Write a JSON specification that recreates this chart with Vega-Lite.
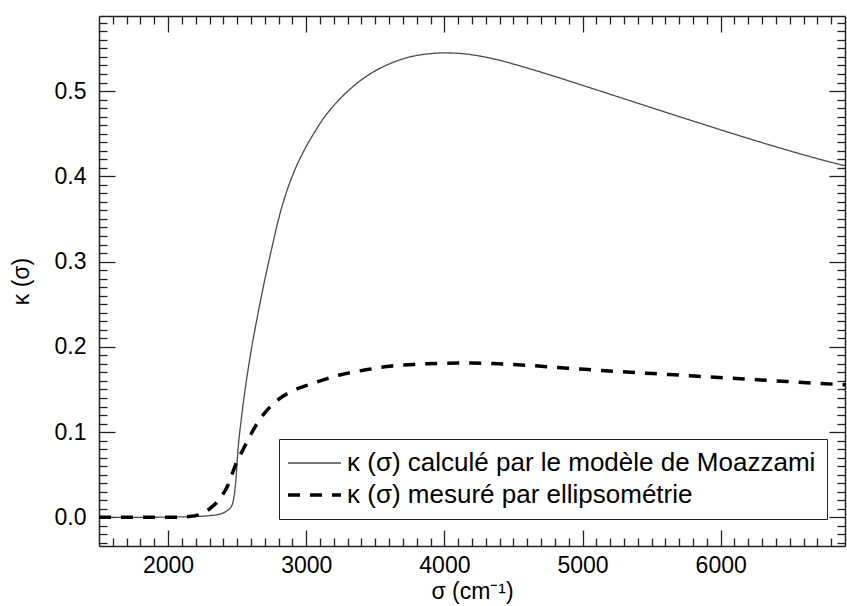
{
  "$schema": "https://vega.github.io/schema/vega-lite/v6.json",
  "width": 746,
  "height": 530,
  "autosize": "none",
  "padding": {"left": 99, "top": 16, "right": 2, "bottom": 60},
  "config": {
    "font": "Liberation Sans",
    "view": {"stroke": null},
    "axis": {"grid": false, "labelFont": "Liberation Sans", "titleFont": "Liberation Sans", "labelColor": "black", "titleColor": "black", "domainColor": "#222", "domainWidth": 1.5, "tickColor": "#222", "tickWidth": 1.3, "labelFontSize": 23, "titleFontSize": 23, "titleFontWeight": "normal", "labelOverlap": false, "labelFlush": false},
    "legend": {"title": null, "orient": "none", "legendX": 180, "legendY": 423, "symbolType": "M-1.5,0H3.8", "symbolSize": 400, "labelFontSize": 26, "labelFont": "Liberation Sans", "labelColor": "black", "labelLimit": 1000, "padding": 11, "rowPadding": 6, "labelOffset": 31, "strokeColor": "#222", "fillColor": "white", "cornerRadius": 0}
  },
  "datasets": {
    "curves": [
      {"s": 1500, "k": 0, "serie": "κ (σ) calculé par le modèle de Moazzami"},
      {"s": 1800, "k": 0, "serie": "κ (σ) calculé par le modèle de Moazzami"},
      {"s": 2000, "k": 0.0003, "serie": "κ (σ) calculé par le modèle de Moazzami"},
      {"s": 2200, "k": 0.001, "serie": "κ (σ) calculé par le modèle de Moazzami"},
      {"s": 2300, "k": 0.002, "serie": "κ (σ) calculé par le modèle de Moazzami"},
      {"s": 2380, "k": 0.004, "serie": "κ (σ) calculé par le modèle de Moazzami"},
      {"s": 2420, "k": 0.007, "serie": "κ (σ) calculé par le modèle de Moazzami"},
      {"s": 2450, "k": 0.011, "serie": "κ (σ) calculé par le modèle de Moazzami"},
      {"s": 2470, "k": 0.018, "serie": "κ (σ) calculé par le modèle de Moazzami"},
      {"s": 2480, "k": 0.027, "serie": "κ (σ) calculé par le modèle de Moazzami"},
      {"s": 2490, "k": 0.042, "serie": "κ (σ) calculé par le modèle de Moazzami"},
      {"s": 2506, "k": 0.079, "serie": "κ (σ) calculé par le modèle de Moazzami"},
      {"s": 2532, "k": 0.118, "serie": "κ (σ) calculé par le modèle de Moazzami"},
      {"s": 2564, "k": 0.157, "serie": "κ (σ) calculé par le modèle de Moazzami"},
      {"s": 2602, "k": 0.196, "serie": "κ (σ) calculé par le modèle de Moazzami"},
      {"s": 2646, "k": 0.235, "serie": "κ (σ) calculé par le modèle de Moazzami"},
      {"s": 2694, "k": 0.274, "serie": "κ (σ) calculé par le modèle de Moazzami"},
      {"s": 2747, "k": 0.313, "serie": "κ (σ) calculé par le modèle de Moazzami"},
      {"s": 2797, "k": 0.348, "serie": "κ (σ) calculé par le modèle de Moazzami"},
      {"s": 2850, "k": 0.378, "serie": "κ (σ) calculé par le modèle de Moazzami"},
      {"s": 2915, "k": 0.4065, "serie": "κ (σ) calculé par le modèle de Moazzami"},
      {"s": 2990, "k": 0.432, "serie": "κ (σ) calculé par le modèle de Moazzami"},
      {"s": 3060, "k": 0.4516, "serie": "κ (σ) calculé par le modèle de Moazzami"},
      {"s": 3130, "k": 0.469, "serie": "κ (σ) calculé par le modèle de Moazzami"},
      {"s": 3205, "k": 0.484, "serie": "κ (σ) calculé par le modèle de Moazzami"},
      {"s": 3300, "k": 0.4997, "serie": "κ (σ) calculé par le modèle de Moazzami"},
      {"s": 3400, "k": 0.5132, "serie": "κ (σ) calculé par le modèle de Moazzami"},
      {"s": 3500, "k": 0.5237, "serie": "κ (σ) calculé par le modèle de Moazzami"},
      {"s": 3600, "k": 0.5317, "serie": "κ (σ) calculé par le modèle de Moazzami"},
      {"s": 3700, "k": 0.5377, "serie": "κ (σ) calculé par le modèle de Moazzami"},
      {"s": 3800, "k": 0.5417, "serie": "κ (σ) calculé par le modèle de Moazzami"},
      {"s": 3900, "k": 0.5439, "serie": "κ (σ) calculé par le modèle de Moazzami"},
      {"s": 4000, "k": 0.5447, "serie": "κ (σ) calculé par le modèle de Moazzami"},
      {"s": 4100, "k": 0.5442, "serie": "κ (σ) calculé par le modèle de Moazzami"},
      {"s": 4200, "k": 0.5425, "serie": "κ (σ) calculé par le modèle de Moazzami"},
      {"s": 4300, "k": 0.5397, "serie": "κ (σ) calculé par le modèle de Moazzami"},
      {"s": 4400, "k": 0.536, "serie": "κ (σ) calculé par le modèle de Moazzami"},
      {"s": 4500, "k": 0.5317, "serie": "κ (σ) calculé par le modèle de Moazzami"},
      {"s": 4600, "k": 0.527, "serie": "κ (σ) calculé par le modèle de Moazzami"},
      {"s": 4700, "k": 0.5221, "serie": "κ (σ) calculé par le modèle de Moazzami"},
      {"s": 4800, "k": 0.5171, "serie": "κ (σ) calculé par le modèle de Moazzami"},
      {"s": 5000, "k": 0.5067, "serie": "κ (σ) calculé par le modèle de Moazzami"},
      {"s": 5200, "k": 0.4962, "serie": "κ (σ) calculé par le modèle de Moazzami"},
      {"s": 5400, "k": 0.4857, "serie": "κ (σ) calculé par le modèle de Moazzami"},
      {"s": 5600, "k": 0.4752, "serie": "κ (σ) calculé par le modèle de Moazzami"},
      {"s": 5800, "k": 0.4648, "serie": "κ (σ) calculé par le modèle de Moazzami"},
      {"s": 6000, "k": 0.4545, "serie": "κ (σ) calculé par le modèle de Moazzami"},
      {"s": 6200, "k": 0.4444, "serie": "κ (σ) calculé par le modèle de Moazzami"},
      {"s": 6400, "k": 0.4346, "serie": "κ (σ) calculé par le modèle de Moazzami"},
      {"s": 6600, "k": 0.4252, "serie": "κ (σ) calculé par le modèle de Moazzami"},
      {"s": 6800, "k": 0.4164, "serie": "κ (σ) calculé par le modèle de Moazzami"},
      {"s": 6900, "k": 0.4125, "serie": "κ (σ) calculé par le modèle de Moazzami"},
      {"s": 1500, "k": 0, "serie": "κ (σ) mesuré par ellipsométrie"},
      {"s": 2000, "k": 0, "serie": "κ (σ) mesuré par ellipsométrie"},
      {"s": 2150, "k": 0.001, "serie": "κ (σ) mesuré par ellipsométrie"},
      {"s": 2240, "k": 0.004, "serie": "κ (σ) mesuré par ellipsométrie"},
      {"s": 2300, "k": 0.01, "serie": "κ (σ) mesuré par ellipsométrie"},
      {"s": 2385, "k": 0.024, "serie": "κ (σ) mesuré par ellipsométrie"},
      {"s": 2440, "k": 0.04, "serie": "κ (σ) mesuré par ellipsométrie"},
      {"s": 2482, "k": 0.059, "serie": "κ (σ) mesuré par ellipsométrie"},
      {"s": 2554, "k": 0.083, "serie": "κ (σ) mesuré par ellipsométrie"},
      {"s": 2600, "k": 0.0975, "serie": "κ (σ) mesuré par ellipsométrie"},
      {"s": 2650, "k": 0.1115, "serie": "κ (σ) mesuré par ellipsométrie"},
      {"s": 2700, "k": 0.1225, "serie": "κ (σ) mesuré par ellipsométrie"},
      {"s": 2750, "k": 0.1315, "serie": "κ (σ) mesuré par ellipsométrie"},
      {"s": 2800, "k": 0.1385, "serie": "κ (σ) mesuré par ellipsométrie"},
      {"s": 2892, "k": 0.1475, "serie": "κ (σ) mesuré par ellipsométrie"},
      {"s": 3065, "k": 0.158, "serie": "κ (σ) mesuré par ellipsométrie"},
      {"s": 3242, "k": 0.167, "serie": "κ (σ) mesuré par ellipsométrie"},
      {"s": 3430, "k": 0.173, "serie": "κ (σ) mesuré par ellipsométrie"},
      {"s": 3620, "k": 0.1775, "serie": "κ (σ) mesuré par ellipsométrie"},
      {"s": 3796, "k": 0.1795, "serie": "κ (σ) mesuré par ellipsométrie"},
      {"s": 4000, "k": 0.1807, "serie": "κ (σ) mesuré par ellipsométrie"},
      {"s": 4162, "k": 0.181, "serie": "κ (σ) mesuré par ellipsométrie"},
      {"s": 4350, "k": 0.1805, "serie": "κ (σ) mesuré par ellipsométrie"},
      {"s": 4528, "k": 0.179, "serie": "κ (σ) mesuré par ellipsométrie"},
      {"s": 4894, "k": 0.175, "serie": "κ (σ) mesuré par ellipsométrie"},
      {"s": 5260, "k": 0.171, "serie": "κ (σ) mesuré par ellipsométrie"},
      {"s": 5626, "k": 0.1675, "serie": "κ (σ) mesuré par ellipsométrie"},
      {"s": 5991, "k": 0.164, "serie": "κ (σ) mesuré par ellipsométrie"},
      {"s": 6357, "k": 0.1605, "serie": "κ (σ) mesuré par ellipsométrie"},
      {"s": 6723, "k": 0.157, "serie": "κ (σ) mesuré par ellipsométrie"},
      {"s": 6900, "k": 0.1555, "serie": "κ (σ) mesuré par ellipsométrie"}
    ]
  },
  "data": {"name": "curves"},
  "layer": [
    {
      "transform": [{"filter": "datum.serie === 'κ (σ) calculé par le modèle de Moazzami'"}],
      "mark": {"type": "line", "clip": true, "interpolate": "monotone"},
      "encoding": {
        "x": {"field": "s", "type": "quantitative", "scale": {"domain": [1500, 6900], "nice": false, "zero": false},
          "axis": {"orient": "bottom", "values": [2000, 3000, 4000, 5000, 6000], "format": "d", "tickSize": -16, "labelPadding": 24, "title": "σ (cm⁻¹)", "titlePadding": 3}},
        "y": {"field": "k", "type": "quantitative", "scale": {"domain": [-0.0336, 0.588], "nice": false, "zero": false},
          "axis": {"orient": "left", "values": [0, 0.1, 0.2, 0.3, 0.4, 0.5], "format": ".1f", "tickSize": -16, "labelPadding": 29, "title": "κ (σ)", "titlePadding": 21}},
        "color": {"field": "serie", "type": "nominal", "scale": {"domain": ["κ (σ) calculé par le modèle de Moazzami", "κ (σ) mesuré par ellipsométrie"], "range": ["#4a4a4a", "#000000"]}},
        "strokeDash": {"field": "serie", "type": "nominal", "scale": {"domain": ["κ (σ) calculé par le modèle de Moazzami", "κ (σ) mesuré par ellipsométrie"], "range": [[1, 0], [12, 10]]}},
        "strokeWidth": {"field": "serie", "type": "nominal", "scale": {"domain": ["κ (σ) calculé par le modèle de Moazzami", "κ (σ) mesuré par ellipsométrie"], "range": [1.3, 3.5]}}
      }
    },
    {
      "transform": [{"filter": "datum.serie === 'κ (σ) mesuré par ellipsométrie'"}],
      "mark": {"type": "line", "clip": true, "interpolate": "monotone"},
      "encoding": {
        "x": {"field": "s", "type": "quantitative", "scale": {"domain": [1500, 6900], "nice": false, "zero": false},
          "axis": {"orient": "top", "values": [2000, 3000, 4000, 5000, 6000], "tickSize": -16, "labels": false, "title": null}},
        "y": {"field": "k", "type": "quantitative", "scale": {"domain": [-0.0336, 0.588], "nice": false, "zero": false},
          "axis": {"orient": "right", "values": [0, 0.1, 0.2, 0.3, 0.4, 0.5], "tickSize": -16, "labels": false, "title": null}},
        "color": {"field": "serie", "type": "nominal"},
        "strokeDash": {"field": "serie", "type": "nominal"},
        "strokeWidth": {"field": "serie", "type": "nominal"}
      }
    },
    {
      "mark": {"type": "point", "opacity": 0},
      "encoding": {
        "x": {"field": "s", "type": "quantitative", "scale": {"domain": [1500, 6900], "nice": false, "zero": false},
          "axis": {"orient": "bottom", "values": [1600,1700,1800,1900,2100,2200,2300,2400,2500,2600,2700,2800,2900,3100,3200,3300,3400,3500,3600,3700,3800,3900,4100,4200,4300,4400,4500,4600,4700,4800,4900,5100,5200,5300,5400,5500,5600,5700,5800,5900,6100,6200,6300,6400,6500,6600,6700,6800], "tickSize": -8, "labels": false, "domain": false, "title": null}},
        "y": {"field": "k", "type": "quantitative", "scale": {"domain": [-0.0336, 0.588], "nice": false, "zero": false},
          "axis": {"orient": "left", "values": [-0.03,-0.02,-0.01,0.01,0.02,0.03,0.04,0.05,0.06,0.07,0.08,0.09,0.11,0.12,0.13,0.14,0.15,0.16,0.17,0.18,0.19,0.21,0.22,0.23,0.24,0.25,0.26,0.27,0.28,0.29,0.31,0.32,0.33,0.34,0.35,0.36,0.37,0.38,0.39,0.41,0.42,0.43,0.44,0.45,0.46,0.47,0.48,0.49,0.51,0.52,0.53,0.54,0.55,0.56,0.57,0.58], "tickSize": -8, "labels": false, "domain": false, "title": null}}
      }
    },
    {
      "mark": {"type": "point", "opacity": 0},
      "encoding": {
        "x": {"field": "s", "type": "quantitative", "scale": {"domain": [1500, 6900], "nice": false, "zero": false},
          "axis": {"orient": "top", "values": [1600,1700,1800,1900,2100,2200,2300,2400,2500,2600,2700,2800,2900,3100,3200,3300,3400,3500,3600,3700,3800,3900,4100,4200,4300,4400,4500,4600,4700,4800,4900,5100,5200,5300,5400,5500,5600,5700,5800,5900,6100,6200,6300,6400,6500,6600,6700,6800], "tickSize": -8, "labels": false, "domain": false, "title": null}},
        "y": {"field": "k", "type": "quantitative", "scale": {"domain": [-0.0336, 0.588], "nice": false, "zero": false},
          "axis": {"orient": "right", "values": [-0.03,-0.02,-0.01,0.01,0.02,0.03,0.04,0.05,0.06,0.07,0.08,0.09,0.11,0.12,0.13,0.14,0.15,0.16,0.17,0.18,0.19,0.21,0.22,0.23,0.24,0.25,0.26,0.27,0.28,0.29,0.31,0.32,0.33,0.34,0.35,0.36,0.37,0.38,0.39,0.41,0.42,0.43,0.44,0.45,0.46,0.47,0.48,0.49,0.51,0.52,0.53,0.54,0.55,0.56,0.57,0.58], "tickSize": -8, "labels": false, "domain": false, "title": null}}
      }
    }
  ],
  "resolve": {"axis": {"x": "independent", "y": "independent"}}
}
